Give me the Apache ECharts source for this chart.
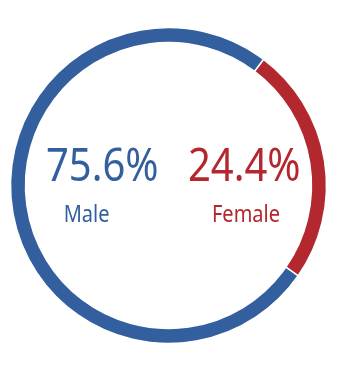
<!DOCTYPE html>
<html>
<head>
<meta charset="utf-8">
<script src="https://cdn.jsdelivr.net/npm/echarts@6/dist/echarts.min.js"></script>
<style>
html,body{margin:0;padding:0;background:#fff;}
#c{width:338px;height:375px;}
</style>
</head>
<body>
<div id="c"></div>
<script>
var categories = ['Female', 'Male'];
var values = [24.4, 75.6];
var valueLabels = ['24.4%', '75.6%'];
var colors = ['#B3282E', '#345F9F'];

var chart = echarts.init(document.getElementById('c'), null, {renderer: 'canvas'});
var FONT = '"Noto Sans", sans-serif';
function txt(t, x, y, size, color) {
  return {
    type: 'text', x: x, y: y, scaleX: 0.87, scaleY: 1,
    style: {text: t, x: 0, y: 0, align: 'center', verticalAlign: 'middle', fontFamily: FONT, fontSize: size, fill: color}
  };
}
chart.setOption({
  animation: false,
  series: [{
    type: 'pie',
    center: [168.5, 185.5],
    radius: [143, 158],
    startAngle: 53,
    clockwise: true,
    label: {show: false},
    labelLine: {show: false},
    silent: true,
    itemStyle: {borderColor: '#fff', borderWidth: 1.5},
    data: categories.map(function (c, i) {
      return {name: c, value: values[i], itemStyle: {color: colors[i]}};
    })
  }],
  graphic: [
    txt(valueLabels[1], 102.3, 167.5, 46, colors[1]),
    txt(categories[1], 86.6, 215, 23, colors[1]),
    txt(valueLabels[0], 244.3, 167.5, 46, colors[0]),
    txt(categories[0], 246, 215, 23, colors[0])
  ]
});
</script>
</body>
</html>
